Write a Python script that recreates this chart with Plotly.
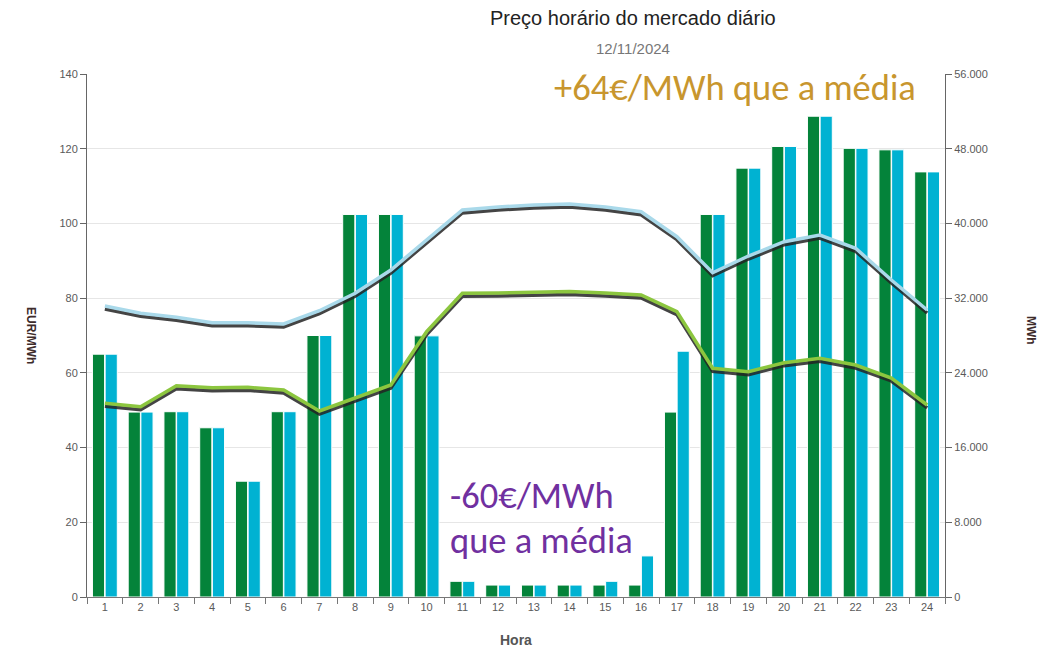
import plotly.graph_objects as go

hours = [str(h) for h in range(1, 25)]

# EUR/MWh (left axis)
price_green = [65, 49.5, 49.6, 45.3, 31, 49.6, 70, 102.4, 102.4, 69.9, 4.2, 3.2,
               3.2, 3.2, 3.2, 3.2, 49.5, 102.4, 114.8, 120.6, 128.7, 120.1, 119.7, 113.8]
price_cyan = [65, 49.5, 49.6, 45.3, 31, 49.6, 70, 102.4, 102.4, 69.9, 4.2, 3.2,
              3.2, 3.2, 4.2, 11.0, 65.8, 102.4, 114.8, 120.6, 128.7, 120.1, 119.7, 113.8]

# MWh (right axis)
energy_blue = [31160, 30380, 29950, 29370, 29370, 29230, 30650, 32520, 35010, 38220,
               41440, 41760, 41970, 42080, 41760, 41250, 38580, 34720, 36510, 38040,
               38760, 37340, 33940, 30730]
energy_green = [20740, 20380, 22620, 22410, 22450, 22160, 19920, 21280, 22700, 28410,
                32520, 32550, 32660, 32710, 32550, 32340, 30550, 24490, 24120, 25090,
                25560, 24840, 23450, 20560]

left_ticks = [0, 20, 40, 60, 80, 100, 120, 140]
right_ticks = [0, 8000, 16000, 24000, 32000, 40000, 48000, 56000]
right_ticktext = ["0", "8.000", "16.000", "24.000", "32.000", "40.000", "48.000", "56.000"]

OFF = 8  # default page body margin
W, H = 1056 - OFF, 649 - OFF
L, R, T, B = 87, 945, 74, 597  # page pixel positions of the plot area

def px(x):
    return (x - L) / (R - L)

def py(y):
    return (B - y) / (B - T)

narrow = "Liberation Sans Narrow, Liberation Sans, Arial, sans-serif"
tickcol = "#5a5a5a"
callout = "Carlito, Lato, sans-serif"

fig = go.Figure()
fig.add_trace(go.Bar(x=hours, y=price_green, marker=dict(color="#04833A", line=dict(color="white", width=1)),
                     yaxis="y", showlegend=False))
fig.add_trace(go.Bar(x=hours, y=price_cyan, marker=dict(color="#00B2D2", line=dict(color="white", width=1)),
                     yaxis="y", showlegend=False))

shadow = "rgba(35,35,35,0.85)"
fig.add_trace(go.Scatter(x=hours, y=energy_blue, mode="lines", line=dict(color=shadow, width=3.5),
                         yaxis="y2", showlegend=False))
fig.add_trace(go.Scatter(x=hours, y=energy_green, mode="lines", line=dict(color=shadow, width=3.5),
                         yaxis="y2", showlegend=False))
fig.add_trace(go.Scatter(x=hours, y=energy_blue, mode="lines", line=dict(color="#A9D9EA", width=3.5),
                         yaxis="y3", showlegend=False))
fig.add_trace(go.Scatter(x=hours, y=energy_green, mode="lines", line=dict(color="#8CC63F", width=3.5),
                         yaxis="y3", showlegend=False))

fig.update_layout(
    width=W, height=H,
    margin=dict(l=L - OFF, r=W - (R - OFF), t=T - OFF, b=H - (B - OFF), autoexpand=False),
    paper_bgcolor="white", plot_bgcolor="white",
    barmode="group", bargap=0.29, bargroupgap=0.04,
    showlegend=False,
    font=dict(family=narrow, color=tickcol, size=11),
    xaxis=dict(type="category", tickson="boundaries", ticks="outside", ticklen=6,
               tickcolor="#777", showline=True, linecolor="#777", linewidth=1,
               showgrid=False, automargin=False,
               tickfont=dict(size=11, color=tickcol, family=narrow)),
    yaxis=dict(range=[0, 140], tickvals=left_ticks, showgrid=True, gridcolor="#e6e6e6",
               showline=True, linecolor="#666", linewidth=1, ticks="outside", ticklen=6,
               tickcolor="#666", zeroline=False, automargin=False,
               tickfont=dict(size=11, color=tickcol, family=narrow)),
    yaxis2=dict(range=[320, 56320], overlaying="y", visible=False, showgrid=False),
    yaxis3=dict(range=[0, 56000], overlaying="y", side="right", tickvals=right_ticks,
                ticktext=right_ticktext, showgrid=False, showline=True, linecolor="#666",
                linewidth=1, ticks="outside", ticklen=6, tickcolor="#666", zeroline=False,
                automargin=False, tickfont=dict(size=11, color=tickcol, family=narrow)),
)

anns = [
    dict(text="Preço horário do mercado diário", x=px(633), y=py(18),
         font=dict(size=20, color="#222", family=narrow)),
    dict(text="12/11/2024", x=px(633), y=py(48),
         font=dict(size=15, color="#777", family=narrow)),
    dict(text="<b>EUR/MWh</b>", x=px(31), y=py(335), textangle=90,
         font=dict(size=12, color="#3d2b2b", family=narrow)),
    dict(text="<b>MWh</b>", x=px(1031), y=py(330), textangle=90,
         font=dict(size=12, color="#3d2b2b", family=narrow)),
    dict(text="<b>Hora</b>", x=px(516), y=py(640),
         font=dict(size=14, color="#555", family=narrow)),
    dict(text="+64€/MWh que a média", x=px(735), y=py(88),
         font=dict(size=36.5, color="#C8962E", family=callout)),
    dict(text="-60€/MWh", x=px(448), y=py(495), xanchor="left",
         font=dict(size=36.5, color="#7030A0", family=callout)),
    dict(text="que a média", x=px(448), y=py(540), xanchor="left",
         font=dict(size=36.5, color="#7030A0", family=callout)),
]
for a in anns:
    base = dict(xref="paper", yref="paper", showarrow=False, xanchor="center", yanchor="middle")
    base.update(a)
    fig.add_annotation(**base)

fig.write_html("out.html")
